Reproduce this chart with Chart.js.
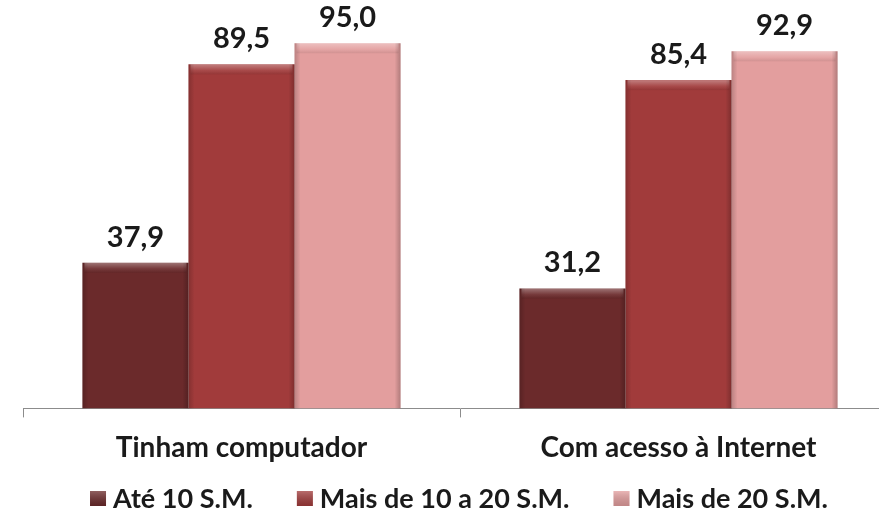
<!DOCTYPE html>
<html>
<head>
<meta charset="utf-8">
<script src="https://cdn.jsdelivr.net/npm/chart.js@4/dist/chart.umd.min.js"></script>
<style>
html,body{margin:0;padding:0;background:#fff;overflow:hidden;width:879px;height:517px;}
#wrap{position:absolute;left:0;top:0;width:918px;height:517px;}
</style>
</head>
<body>
<div id="wrap"><canvas id="c" width="918" height="517"></canvas></div>
<script>
const categories = ["Tinham computador", "Com acesso à Internet"];
const seriesNames = ["Até 10 S.M.", "Mais de 10 a 20 S.M.", "Mais de 20 S.M."];
const ate10 = [37.9, 31.2];
const de10a20 = [89.5, 85.4];
const mais20 = [95.0, 92.9];
const colors = ["#6B2A2B", "#A13B3B", "#E39E9E"];

const FONT = "Lato, 'Open Sans', sans-serif";

const bevelPlugin = {
  id: 'bevel',
  afterDatasetsDraw(chart) {
    const ctx = chart.ctx;
    chart.data.datasets.forEach((ds, di) => {
      const meta = chart.getDatasetMeta(di);
      meta.data.forEach((bar) => {
        const w = bar.width, x0 = bar.x - w / 2, y0 = bar.y, h = bar.base - bar.y;
        ctx.save();
        let g = ctx.createLinearGradient(0, y0, 0, y0 + 10);
        g.addColorStop(0, 'rgba(255,255,255,0.35)');
        g.addColorStop(0.6, 'rgba(255,255,255,0.08)');
        g.addColorStop(1, 'rgba(0,0,0,0.08)');
        ctx.fillStyle = g;
        ctx.fillRect(x0 + 2, y0, w - 4, 10);
        g = ctx.createLinearGradient(x0, 0, x0 + 6, 0);
        g.addColorStop(0, 'rgba(0,0,0,0.18)');
        g.addColorStop(1, 'rgba(0,0,0,0)');
        ctx.fillStyle = g;
        ctx.fillRect(x0, y0, 6, h);
        g = ctx.createLinearGradient(x0 + w, 0, x0 + w - 6, 0);
        g.addColorStop(0, 'rgba(0,0,0,0.22)');
        g.addColorStop(1, 'rgba(0,0,0,0)');
        ctx.fillStyle = g;
        ctx.fillRect(x0 + w - 6, y0, 6, h);
        ctx.restore();
      });
    });
  }
};

const labelPlugin = {
  id: 'valueLabels',
  afterDatasetsDraw(chart) {
    const ctx = chart.ctx;
    ctx.save();
    ctx.font = "bold 29px " + FONT;
    ctx.fillStyle = '#1a1a1a';
    ctx.textAlign = 'center';
    ctx.textBaseline = 'alphabetic';
    chart.data.datasets.forEach((ds, di) => {
      const meta = chart.getDatasetMeta(di);
      meta.data.forEach((bar, i) => {
        const v = ds.data[i];
        ctx.fillText(v.toFixed(1).replace('.', ','), bar.x, bar.y - 16);
      });
    });
    ctx.restore();
  }
};

const legendPlugin = {
  id: 'customLegend',
  afterDraw(chart) {
    const ctx = chart.ctx;
    ctx.save();
    ctx.font = "bold 27px " + FONT;
    const box = 16, gapText = 7, gapItem = 44;
    const items = chart.data.datasets.map(d => ({ text: d.label, color: d.backgroundColor, w: ctx.measureText(d.label).width }));
    const total = items.reduce((s, it) => s + box + gapText + it.w, 0) + gapItem * (items.length - 1);
    let x = 459 - total / 2;
    const baseline = 508;
    items.forEach(it => {
      ctx.fillStyle = it.color;
      ctx.fillRect(x, baseline - 17, box, 15);
      let g = ctx.createLinearGradient(0, baseline - 17, 0, baseline - 2);
      g.addColorStop(0, 'rgba(255,255,255,0.25)');
      g.addColorStop(1, 'rgba(0,0,0,0.15)');
      ctx.fillStyle = g;
      ctx.fillRect(x, baseline - 17, box, 15);
      ctx.fillStyle = '#1a1a1a';
      ctx.textBaseline = 'alphabetic';
      ctx.textAlign = 'left';
      ctx.fillText(it.text, x + box + gapText, baseline);
      x += box + gapText + it.w + gapItem;
    });
    ctx.restore();
  }
};

new Chart(document.getElementById('c'), {
  type: 'bar',
  data: {
    labels: categories,
    datasets: [
      { label: seriesNames[0], data: ate10, backgroundColor: colors[0], borderWidth: 0 },
      { label: seriesNames[1], data: de10a20, backgroundColor: colors[1], borderWidth: 0 },
      { label: seriesNames[2], data: mais20, backgroundColor: colors[2], borderWidth: 0 }
    ]
  },
  options: {
    responsive: false,
    animation: false,
    layout: { padding: { left: 23, right: 21, top: 24, bottom: 38 } },
    datasets: { bar: { categoryPercentage: 0.728, barPercentage: 1.0 } },
    scales: {
      x: {
        offset: true,
        grid: { display: true, drawOnChartArea: false, offset: true, tickLength: 9, color: '#8c8c8c', lineWidth: 1 },
        border: { display: true, color: '#8c8c8c', width: 1 },
        ticks: { font: { family: FONT, size: 28, weight: 'bold' }, color: '#1a1a1a', padding: 14 }
      },
      y: { display: false, min: 0, max: 100 }
    },
    plugins: {
      legend: { display: false },
      tooltip: { enabled: false }
    }
  },
  plugins: [bevelPlugin, labelPlugin, legendPlugin]
});
</script>
</body>
</html>
